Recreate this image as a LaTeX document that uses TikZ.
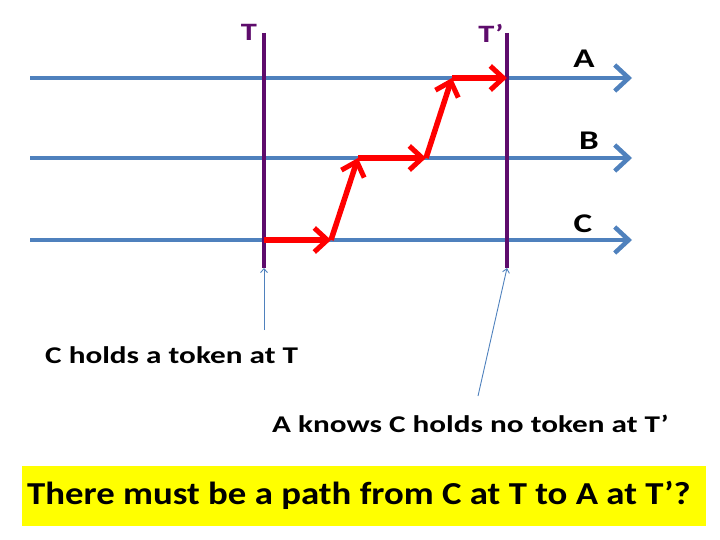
\documentclass[tikz,border=0pt]{standalone}
\usepackage{fontspec}
\setmainfont{Carlito}
\newfontfamily\notefont[FakeStretch=1.3]{Carlito}
\newfontfamily\askfont[FakeStretch=1.15]{Carlito}
\usepackage{tikz}
\usetikzlibrary{arrows.meta}
\definecolor{proc}{HTML}{4F81BD}
\definecolor{cut}{HTML}{5E0C6C}
\definecolor{msg}{HTML}{FF0000}
\definecolor{note}{HTML}{FFFF00}

\begin{document}
\begin{tikzpicture}[
  x=1pt, y=-1pt,
  line/.style={proc,line width=4.5pt,-{Straight Barb[length=14pt,width=26pt,line width=4.5pt]}},
  cutline/.style={cut,line width=4.5pt},
  hop/.style={msg,line width=5.5pt,-{Straight Barb[length=13pt,width=24pt,line width=5pt]},
              line join=round},
  ptr/.style={proc,line width=0.9pt,-{Straight Barb[length=4pt,width=7pt]}},
  lab/.style={font=\notefont\bfseries\fontsize{24}{28}\selectfont,inner sep=0pt},
  tag/.style={font=\notefont\bfseries\fontsize{27}{30}\selectfont,inner sep=0pt},
  cuttag/.style={font=\notefont\bfseries\fontsize{25}{28}\selectfont,inner sep=0pt,text=cut},
]
\useasboundingbox (0,0) rectangle (720,540);

% ---- processes
\coordinate (a0) at (30,78);   \coordinate (a1) at (632,78);
\coordinate (b0) at (30,158);  \coordinate (b1) at (632,158);
\coordinate (c0) at (30,240);  \coordinate (c1) at (632,240);
\draw[line] (a0) -- (a1);
\draw[line] (b0) -- (b1);
\draw[line] (c0) -- (c1);
\node[tag] (la) at (584,59) {A};
\node[tag] (lb) at (589,141) {B};
\node[tag] (lc) at (583,224) {C};

% ---- the two cuts
\coordinate (t0) at (264,33);  \coordinate (t1) at (264,268);
\coordinate (s0) at (507,33);  \coordinate (s1) at (507,268);
\draw[cutline] (t0) -- (t1);
\draw[cutline] (s0) -- (s1);
\node[cuttag] (lt) at (249,32) {T};
\node[cuttag] (ls) at (491,33) {T’};

% ---- the path of messages
\coordinate (p0) at (264,240);
\coordinate (p1) at (331,240);
\coordinate (p2) at (358,158);
\coordinate (p3) at (426,158);
\coordinate (p4) at (452,78);
\coordinate (p5) at (507,78);
\draw[hop] (p0) -- (p1);
\draw[hop] (p1) -- (p2);
\draw[hop] (p2) -- (p3);
\draw[hop] (p3) -- (p4);
\draw[hop] (p4) -- (p5);

% ---- notes
\node[lab,anchor=west] (holds) at (45,355) {C holds a token at T};
\node[lab,anchor=west] (knows) at (272,424) {A knows C holds no token at T’};
\coordinate (h0) at (264,330);
\coordinate (k0) at (478,396);
\draw[ptr] (h0) -- (t1);
\draw[ptr] (k0) -- (s1);

\fill[note] (22,466) rectangle (706,526);
\node[font=\askfont\bfseries\fontsize{32}{36}\selectfont,inner sep=0pt] (ask) at (359,495)
  {There must be a path from C at T to A at T’?};
\end{tikzpicture}
\end{document}
